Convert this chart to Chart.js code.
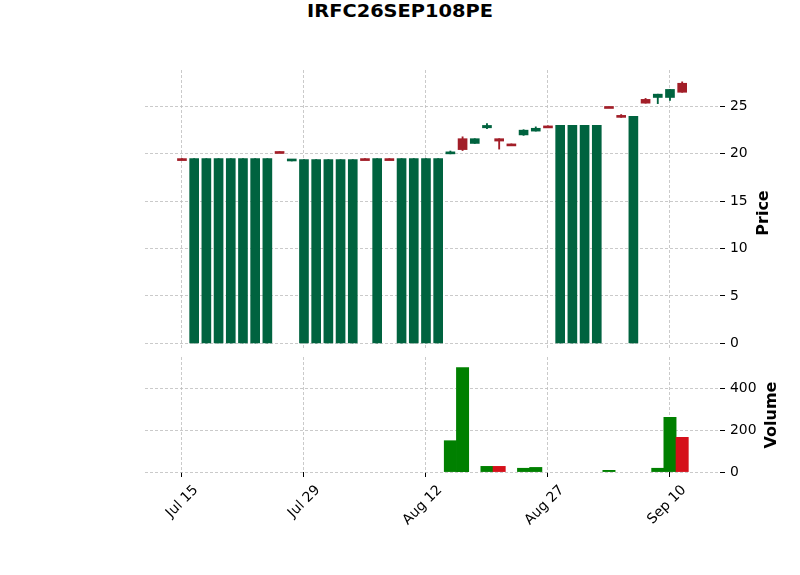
<!DOCTYPE html>
<html>
<head>
<meta charset="utf-8">
<script src="https://cdn.jsdelivr.net/npm/chart.js@4.4.1/dist/chart.umd.min.js"></script>
<style>
  body { margin: 0; background: #fff; }
  #marco { position: relative; width: 800px; height: 575px; font-family: "DejaVu Sans", sans-serif; color: #000; }
  canvas { position: absolute; left: 0; top: 0; }
  .titulo { position: absolute; left: 0; top: 0; width: 800px; text-align: center; font-weight: bold; font-size: 17px; line-height: 22px; transform: scaleX(1.14); }
  .eje { position: absolute; font-weight: bold; font-size: 16px; white-space: nowrap; transform: translate(-50%, -50%) rotate(-90deg); }
</style>
</head>
<body>
<div id="marco">
  <div class="titulo">IRFC26SEP108PE</div>
  <canvas id="precio" width="800" height="575"></canvas>
  <canvas id="volumen" width="800" height="575"></canvas>
  <div class="eje" style="left:762px; top:213px;">Price</div>
  <div class="eje" style="left:770px; top:415px;">Volume</div>
</div>
<script>
// datos (una vela por dia de mercado)
const fechas = ["Jul 15", "Jul 16", "Jul 17", "Jul 18", "Jul 19", "Jul 22", "Jul 23", "Jul 24", "Jul 25", "Jul 26",
  "Jul 29", "Jul 30", "Jul 31", "Aug 01", "Aug 02", "Aug 05", "Aug 06", "Aug 07", "Aug 08", "Aug 09",
  "Aug 12", "Aug 13", "Aug 14", "Aug 16", "Aug 19", "Aug 20", "Aug 21", "Aug 22", "Aug 23", "Aug 26",
  "Aug 27", "Aug 28", "Aug 29", "Aug 30", "Sep 02", "Sep 03", "Sep 04", "Sep 05", "Sep 06", "Sep 09",
  "Sep 10", "Sep 11"];
const apertura = [19.5, 0, 0, 0, 0, 0, 0, 0, 20.25, 19.25,
  0, 0, 0, 0, 0, 19.5, 0, 19.5, 0, 0,
  0, 0, 20.0, 21.6, 21.1, 22.75, 21.6, 21.05, 22.0, 22.4,
  22.95, 0, 0, 0, 0, 25.0, 24.05, 0, 25.75, 25.95,
  25.95, 27.45];
const cierre = [19.5, 19.5, 19.5, 19.5, 19.5, 19.5, 19.5, 19.5, 20.25, 19.4,
  19.4, 19.4, 19.4, 19.4, 19.4, 19.5, 19.5, 19.5, 19.5, 19.5,
  19.5, 19.5, 20.15, 20.45, 21.6, 23.0, 21.35, 21.05, 22.5, 22.7,
  22.95, 23.0, 23.0, 23.0, 23.0, 25.0, 23.85, 23.95, 25.35, 26.3,
  26.8, 26.5];
const maximo = [19.5, 19.5, 19.5, 19.5, 19.5, 19.5, 19.5, 19.5, 20.25, 19.4,
  19.4, 19.4, 19.4, 19.4, 19.4, 19.5, 19.5, 19.5, 19.5, 19.5,
  19.5, 19.5, 20.3, 21.8, 21.6, 23.2, 21.6, 21.05, 22.55, 22.85,
  22.95, 23.0, 23.0, 23.0, 23.0, 25.0, 24.15, 23.95, 25.85, 26.3,
  26.8, 27.6];
const minimo = [19.5, 0, 0, 0, 0, 0, 0, 0, 20.25, 19.25,
  0, 0, 0, 0, 0, 19.5, 0, 19.5, 0, 0,
  0, 0, 20.0, 20.35, 21.1, 22.65, 20.5, 21.05, 21.95, 22.4,
  22.95, 0, 0, 0, 0, 25.0, 23.85, 0, 25.35, 25.3,
  25.65, 26.5];
const volumen = [0, 0, 0, 0, 0, 0, 0, 0, 0, 0,
  0, 0, 0, 0, 0, 0, 0, 0, 0, 0,
  0, 0, 150, 500, 0, 27, 27, 0, 18, 22,
  0, 0, 0, 0, 0, 8, 0, 0, 0, 18,
  262, 166];
const ticksX = [0, 10, 20, 30, 40];
const ticksPrecio = [0, 5, 10, 15, 20, 25];
const ticksVolumen = [0, 200, 400];

const verde = "#00633f";
const rojo = "#a21e28";
const verdeVol = "#008000";
const rojoVol = "#d5101a";
const gris = "#bcbcbc";
const fuente = { family: "DejaVu Sans", size: 13.9 };

const colorVela = cierre.map((c, i) => (c > apertura[i] ? verde : rojo));
const colorVol = cierre.map((c, i) => (i === 0 || c >= cierre[i - 1] ? verdeVol : rojoVol));

const cuerpos = fechas.map((f, i) => ({ x: i, y: [apertura[i], cierre[i]] }));
const mechas = fechas.map((f, i) => ({ x: i, y: [minimo[i], maximo[i]] }));
// los dias sin volumen no se dibujan
const barrasVol = fechas.map((f, i) => ({ x: i, y: volumen[i] > 0 ? volumen[i] : null }));

function ejeX(conEtiquetas) {
  return {
    type: "linear",
    offset: false,
    min: -3.03,
    max: 44.1,
    afterBuildTicks: (s) => { s.ticks = ticksX.map((v) => ({ value: v })); },
    grid: { offset: false, color: gris, lineWidth: 0.8, drawTicks: conEtiquetas, tickLength: 5, tickColor: "#000", tickWidth: 1 },
    border: { display: false, dash: [3, 2] },
    ticks: {
      display: conEtiquetas,
      autoSkip: false,
      minRotation: 45,
      maxRotation: 45,
      labelOffset: 14,
      padding: 5,
      color: "#000",
      font: fuente,
      callback: (v) => fechas[v],
    },
    afterFit: (s) => { s.height = conEtiquetas ? 60 : 0; },
  };
}

function ejeY(min, max, lista) {
  return {
    position: "right",
    min: min,
    max: max,
    afterBuildTicks: (s) => { s.ticks = lista.map((v) => ({ value: v })); },
    grid: { color: gris, lineWidth: 0.8, tickLength: 5, tickColor: "#000", tickWidth: 1 },
    border: { display: false, dash: [3, 2] },
    ticks: { padding: 5, color: "#000", font: fuente },
    afterFit: (s) => { s.width = 60; },
  };
}

const comunes = {
  responsive: false,
  animation: false,
  devicePixelRatio: 1,
  plugins: { legend: { display: false }, tooltip: { enabled: false } },
};

// panel de precio: cuerpos encima de las mechas
new Chart(document.getElementById("precio"), {
  type: "bar",
  data: {
    datasets: [
      { data: cuerpos, backgroundColor: colorVela, barThickness: 9, minBarLength: 2, grouped: false, borderWidth: 0 },
      { data: mechas, backgroundColor: colorVela, barThickness: 1.2, grouped: false, borderWidth: 0 },
    ],
  },
  options: {
    ...comunes,
    layout: { padding: { left: 145, right: 20, top: 70, bottom: 225 } },
    scales: { x: ejeX(false), y: ejeY(-0.7, 28.85, ticksPrecio) },
  },
});

// panel de volumen
new Chart(document.getElementById("volumen"), {
  type: "bar",
  data: {
    datasets: [
      { data: barrasVol, backgroundColor: colorVol, barThickness: 12.3, grouped: false, borderWidth: 0 },
    ],
  },
  options: {
    ...comunes,
    layout: { padding: { left: 145, right: 20, top: 357, bottom: 43 } },
    scales: { x: ejeX(true), y: ejeY(0, 551, ticksVolumen) },
  },
});
</script>
</body>
</html>
